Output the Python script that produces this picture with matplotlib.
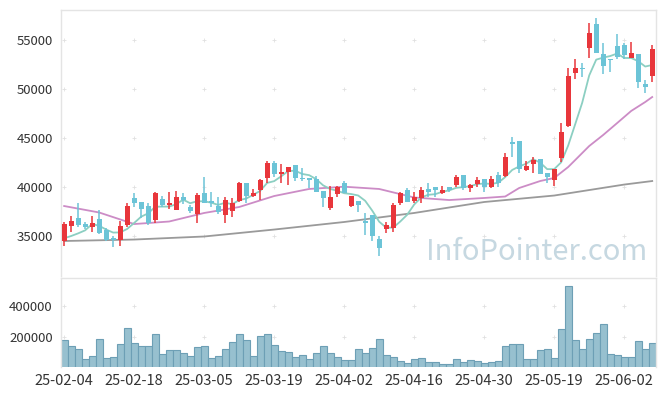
import numpy as np
import pandas as pd
import matplotlib
matplotlib.use('Agg')
import matplotlib.pyplot as plt

plt.rcParams['font.family'] = ['Noto Sans CJK KR', 'DejaVu Sans']

# Trading days (KRX calendar), labelled YY-MM-DD
feb_days = [4, 5, 6, 7, 10, 11, 12, 13, 14, 17, 18, 19, 20, 21, 24, 25, 26, 27, 28]
mar_days = [4, 5, 6, 7, 10, 11, 12, 13, 14, 17, 18, 19, 20, 21, 24, 25, 26, 27, 28, 31]
apr_days = [1, 2, 3, 4, 7, 8, 9, 10, 11, 14, 15, 16, 17, 18, 21, 22, 23, 24, 25, 28, 29, 30]
may_days = [2, 7, 8, 9, 12, 13, 14, 15, 16, 19, 20, 21, 22, 23, 26, 27, 28, 29, 30]
jun_days = [2, 4, 5, 9, 10]
dates = ([f"25-02-{d:02d}" for d in feb_days] + [f"25-03-{d:02d}" for d in mar_days]
         + [f"25-04-{d:02d}" for d in apr_days] + [f"25-05-{d:02d}" for d in may_days]
         + [f"25-06-{d:02d}" for d in jun_days])

opens = [34520, 36050, 36870, 36220, 35950, 36700, 35610, 34770, 34590, 36120,
         38880, 38470, 38060, 36630, 38810, 38190, 37690, 38980, 37990, 37240,
         39390, 38570, 38060, 37140, 37550, 38600, 40440, 39110, 39690, 40950,
         42480, 41330, 41560, 42240, 40950, 40950, 40820, 39590, 37890, 39290,
         40440, 38090, 38600, 36560, 37140, 34690, 35680, 35780, 38330, 39690,
         38600, 38840, 39800, 39970, 39360, 40030, 40200, 41220, 39930, 40300,
         40780, 40030, 41220, 41120, 44620, 44730, 41730, 42350, 42860, 41400,
         40710, 42990, 46260, 51670, 52140, 54150, 56630, 53570, 53090, 54390,
         54490, 53190, 53570, 50510, 51360]
highs = [36460, 37070, 38340, 36460, 37070, 37650, 35800, 35000, 36560, 38340,
         39360, 38470, 38340, 39520, 39100, 39460, 39560, 39360, 38160, 39420,
         40990, 39460, 39010, 39010, 38840, 40480, 40440, 39760, 40780, 42650,
         42650, 42350, 42070, 42240, 41910, 40950, 41150, 39590, 40100, 40100,
         40640, 39110, 38600, 37320, 37140, 35000, 36460, 38340, 39520, 39900,
         39520, 40030, 40370, 39970, 40100, 40030, 41220, 41220, 40270, 41050,
         40780, 41120, 41560, 43430, 45130, 44730, 42650, 43030, 42860, 41400,
         41830, 46500, 52110, 53030, 52680, 56700, 57210, 54720, 53090, 55610,
         54660, 54830, 53570, 50920, 54490]
lows = [34000, 35440, 35950, 35710, 35440, 35200, 34500, 33850, 33980, 35950,
        37930, 36870, 36120, 36360, 38000, 37760, 37690, 38240, 37320, 36300,
        38330, 37990, 37240, 36300, 36900, 38500, 38340, 38950, 38670, 40380,
        40990, 40380, 40200, 40640, 40640, 39870, 39520, 37990, 37650, 39010,
        39360, 37990, 37480, 35100, 34520, 32960, 35270, 35440, 38200, 38500,
        38330, 38330, 39010, 38950, 39250, 39520, 40030, 39690, 39520, 40030,
        39520, 39930, 40030, 41050, 43090, 41460, 41630, 41400, 41330, 40380,
        40130, 42580, 46150, 50990, 51260, 53130, 53710, 51530, 51770, 53030,
        53060, 53190, 50070, 49560, 50740]
closes = [36220, 36530, 36120, 35950, 36290, 35340, 34590, 34590, 36020, 38060,
          38400, 37790, 36300, 39360, 38160, 38400, 38980, 38640, 37550, 39180,
          38330, 38330, 37480, 38670, 38400, 40440, 39110, 39360, 40710, 42480,
          41330, 41560, 42070, 40880, 40820, 40710, 39520, 38910, 39010, 39970,
          39420, 39110, 38160, 36300, 35000, 33740, 36090, 38160, 39360, 38500,
          38950, 39690, 39520, 39690, 39690, 39690, 40990, 39870, 40200, 40710,
          40030, 40780, 40440, 43090, 44360, 41840, 42140, 42760, 41330, 41050,
          41830, 45640, 51330, 52170, 52010, 55750, 53710, 52380, 52960, 53300,
          53470, 53710, 50740, 50240, 54080]
volumes = [182800, 144400, 125200, 61300, 80500, 189100, 67700, 74100, 157200, 259400,
           163600, 144400, 144400, 221100, 93300, 118900, 118900, 99700, 80500, 138000,
           144400, 67700, 80500, 125200, 170000, 221100, 182800, 80500, 208300, 221100,
           150800, 112500, 106100, 74100, 86900, 61300, 99700, 144400, 99700, 74100,
           53000, 53000, 123300, 97800, 129700, 187200, 85000, 72200, 46600, 33900,
           59400, 65800, 40300, 40300, 27500, 27500, 59400, 40300, 53000, 46600,
           33900, 40300, 46600, 142500, 155300, 155300, 59400, 59400, 116900, 123300,
           65800, 251100, 527800, 180800, 123300, 187200, 225600, 285000, 91400, 85000,
           72200, 72200, 174400, 123300, 161700]

# first MA5 points need closes from before the window
ma5_head = [34770, 35000, 35270, 35580]
# 20-day and long moving averages at these candles
ma20_idx = [0, 5, 10, 15, 20, 25, 30, 35, 40, 45, 50, 55, 60, 63, 65, 68, 70,
            72, 73, 75, 77, 79, 81, 83, 84]
ma20_val = [38060, 37400, 36220, 36480, 37350, 37960, 39080, 39800, 40030, 39800,
            38930, 38670, 38880, 39030, 39900, 40610, 40920, 42040, 42750, 44180,
            45310, 46530, 47760, 48670, 49180]
ma_long_idx = [0, 10, 20, 30, 40, 50, 60, 70, 80, 84]
ma_long_val = [34490, 34640, 34950, 35660, 36430, 37350, 38470, 39130, 40250, 40610]

UP = '#e8363b'
DOWN = '#6cc4d7'
FRAME = '#e4e4e4'

x = np.arange(len(dates))
o = np.array(opens)
c = np.array(closes)
up = c >= o

ma5 = pd.Series(closes, dtype=float).rolling(5).mean()
ma5.iloc[:4] = ma5_head

fig = plt.figure(figsize=(6.65, 3.96), dpi=100)
ax = fig.add_axes([61 / 665, 1 - 276 / 396, 594.7 / 665, 266 / 396])
axv = fig.add_axes([61 / 665, 1 - 367 / 396, 594.7 / 665, 89 / 396], sharex=ax)

# --- PRICE PANEL ---
ax.plot(ma_long_idx, ma_long_val, color='#9a9a9a', linewidth=1.3, zorder=2)
ax.plot(ma20_idx, ma20_val, color='#cc8cc6', linewidth=1.3, zorder=2)
ax.plot(x, ma5, color='#8ccfc2', linewidth=1.3, zorder=2)

colors = np.where(up, UP, DOWN)
ax.vlines(x, lows, highs, colors=colors, linewidth=1.1, zorder=3)
body = np.maximum(np.abs(c - o), 120)
ax.bar(x, body, bottom=np.minimum(o, c), width=0.68, color=colors, zorder=4)

ax.set_xlim(-0.45, 84.5)
ax.set_ylim(30920, 58060)
yticks = [35000, 40000, 45000, 50000, 55000]
ax.set_yticks(yticks)
ax.set_yticklabels([str(v) for v in yticks])
xticks = list(range(0, len(dates), 10))
gx, gy = np.meshgrid(xticks, yticks)
ax.scatter(gx.ravel(), gy.ravel(), marker='+', s=12, linewidths=0.6, color='#e0e0e0', zorder=1)

ax.text(0.985, 0.035, 'InfoPointer.com', transform=ax.transAxes, ha='right', va='bottom',
        fontsize=21, color='#c6d8e1', zorder=1)

# --- VOLUME PANEL ---
axv.bar(x, volumes, width=1.0, color='#97c0cf', edgecolor='#6d9fb5', linewidth=0.8)
axv.set_ylim(10000, 580000)
axv.set_yticks([200000, 400000])
axv.set_yticklabels(['200000', '400000'])
gx, gy = np.meshgrid(xticks, [200000, 400000])
axv.scatter(gx.ravel(), gy.ravel(), marker='+', s=12, linewidths=0.6, color='#e0e0e0', zorder=0)
axv.set_xticks(xticks)
axv.set_xticklabels([dates[i] for i in xticks])

for a in (ax, axv):
    a.tick_params(length=0, labelsize=9.5, colors='#333333', pad=6)
    for s in ('top', 'left', 'right'):
        a.spines[s].set_color(FRAME)
        a.spines[s].set_linewidth(1)
    a.spines['bottom'].set_visible(False)
ax.tick_params(axis='x', labelbottom=False)
axv.tick_params(axis='x', labelsize=10.5, pad=5)

fig.savefig('out.png', dpi=100)
plt.close(fig)
